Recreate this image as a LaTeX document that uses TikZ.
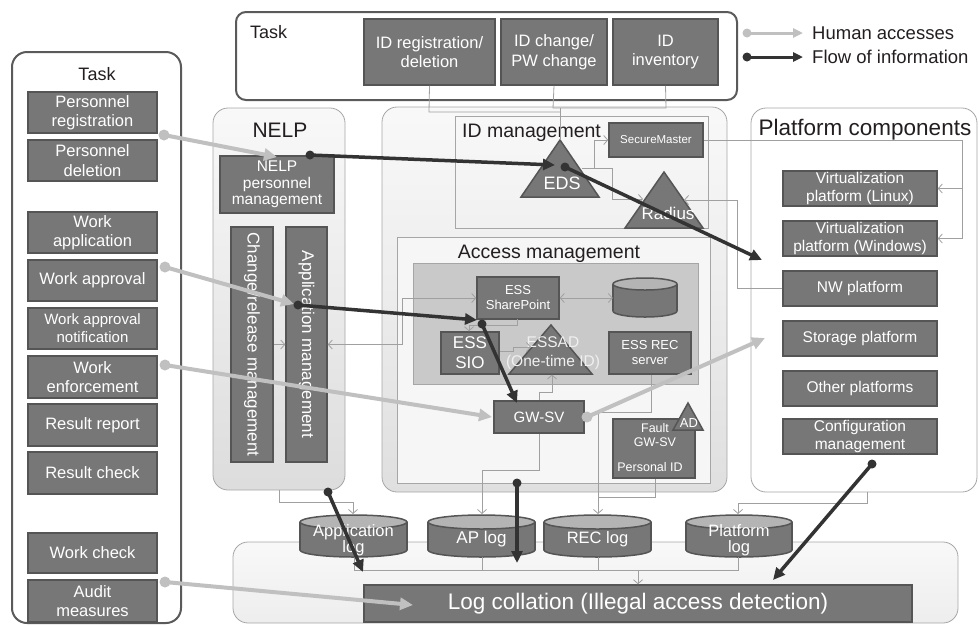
\documentclass[tikz,border=0pt]{standalone}
\usepackage{fontspec}
\setmainfont{Liberation Sans}
\usetikzlibrary{arrows.meta}
\definecolor{boxfill}{HTML}{777777}
\definecolor{boxline}{HTML}{555555}
\definecolor{taskline}{HTML}{5A5A5A}
\definecolor{contline}{HTML}{A6A6A6}
\definecolor{thinc}{HTML}{A0A0A0}
\definecolor{darkc}{HTML}{333333}
\definecolor{lightc}{HTML}{C0C0C0}
\definecolor{cyltop}{HTML}{B4B4B4}
\definecolor{graybox}{HTML}{C9C9C9}
\definecolor{txt}{HTML}{231F20}
\newcommand\fs[2]{\fontsize{#1}{#2}\selectfont}
\newcommand\drawcyl[5]{%
 \filldraw[fill=boxfill, draw=boxline, line width=1.5pt] (#1,{#4-#5}) ellipse ({#2} and {#5});
 \fill[boxfill] ({#1-#2},{#3+#5}) rectangle ({#1+#2},{#4-#5});
 \draw[boxline, line width=1.5pt] ({#1-#2},{#3+#5}) -- ({#1-#2},{#4-#5}) ({#1+#2},{#3+#5}) -- ({#1+#2},{#4-#5});
 \filldraw[fill=cyltop, draw=boxline, line width=1.5pt] (#1,{#3+#5}) ellipse ({#2} and {#5});
}
\begin{document}
\begin{tikzpicture}[x=1pt,y=-1pt,
 box/.style={draw=boxline, fill=boxfill, line width=1.5pt, text=white, inner sep=0pt, align=center, font=\fs{16.5}{19.5}},
 lbl/.style={text=txt, inner sep=0pt},
 wtxt/.style={text=white, inner sep=0pt, align=center},
 tri/.style={fill=boxfill, draw=boxline, line width=1.5pt, line join=miter},
 thinl/.style={thinc, line width=0.8pt},
 thinarrow/.style={thinl, -{Straight Barb[length=4pt,width=9pt]}},
 thinboth/.style={thinl, {Straight Barb[length=4pt,width=9pt]}-{Straight Barb[length=4pt,width=9pt]}},
 flow/.style={darkc, line width=3.5pt, -{Triangle[length=12pt,width=11pt]}},
 human/.style={lightc, line width=4pt, -{Triangle[length=13pt,width=12pt]}},
 cont/.style={contline, line width=0.8pt}]
\useasboundingbox (0,0) rectangle (979,625);

% ---------- containers ----------
\draw[taskline, line width=2pt, fill=white, rounded corners=10pt] (236,12) rectangle (737,100);
\node[lbl, font=\fs{18}{20}, anchor=west] (toptask) at (250,32) {Task};
\draw[taskline, line width=2pt, fill=white, rounded corners=15pt] (12,52) rectangle (181,623);
\node[lbl, font=\fs{18}{20}] (lefttask) at (97,74) {Task};

\draw[cont, top color=gray!5, bottom color=gray!27, rounded corners=15pt] (213,108) rectangle (345,490);
\node[lbl, font=\fs{21}{23}] (nelplbl) at (280,130) {NELP};
\draw[cont, top color=gray!5, bottom color=gray!25, rounded corners=15pt] (382,107) rectangle (727,492);
\draw[cont, fill=white, rounded corners=15pt] (751,108) rectangle (977,492);
\node[lbl, font=\fs{22.5}{24}] (platlbl) at (865,130) {Platform components};
\draw[cont, top color=gray!5, bottom color=gray!14, rounded corners=15pt] (233,542) rectangle (958,623);

\draw[cont] (455,116) rectangle (708,228);
\node[lbl, font=\fs{19.5}{21}, anchor=west] (idmlbl) at (462,133) {ID management};
\draw[cont, fill=gray!7] (397,237) rectangle (710,483);
\node[lbl, font=\fs{19.5}{21}] (amlbl) at (549,254) {Access management};
\draw[cont, fill=graybox] (413,263) rectangle (698,384);

% ---------- legend ----------
\coordinate (lg1a) at (747,33); \coordinate (lg1b) at (803,33);
\coordinate (lg2a) at (747,57); \coordinate (lg2b) at (803,57);
\draw[lightc, line width=3pt, -{Triangle[length=10pt,width=9pt]}] (lg1a) -- (lg1b);
\fill[lightc] (lg1a) circle (4.5);
\draw[darkc, line width=3pt, -{Triangle[length=10pt,width=9pt]}] (lg2a) -- (lg2b);
\fill[darkc] (lg2a) circle (4.5);
\node[lbl, font=\fs{18.5}{20}, anchor=west] (lgt1) at (812,33) {Human accesses};
\node[lbl, font=\fs{18.5}{20}, anchor=west] (lgt2) at (812,57) {Flow of information};

% ---------- left task boxes ----------
\node[box, minimum width=129pt, minimum height=41pt] (preg) at (92.5,112.5) {Personnel\\registration};
\node[box, minimum width=129pt, minimum height=41pt] (pdel) at (92.5,160.5) {Personnel\\deletion};
\node[box, minimum width=129pt, minimum height=41pt] (wapp) at (92.5,232.5) {Work\\application};
\node[box, minimum width=129pt, minimum height=41pt] (wappr) at (92.5,280.5) {Work approval};
\node[box, minimum width=129pt, minimum height=41pt, font=\fs{15}{18}] (wnot) at (92.5,328.5) {Work approval\\notification};
\node[box, minimum width=129pt, minimum height=42pt] (wenf) at (92.5,377) {Work\\enforcement};
\node[box, minimum width=129pt, minimum height=42pt] (rrep) at (92.5,425) {Result report};
\node[box, minimum width=129pt, minimum height=42pt] (rchk) at (92.5,473) {Result check};
\node[box, minimum width=129pt, minimum height=40pt] (wchk) at (92.5,553) {Work check};
\node[box, minimum width=129pt, minimum height=42pt] (audit) at (92.5,601) {Audit\\measures};

% ---------- top task boxes ----------
\node[box, minimum width=131pt, minimum height=66pt] (idreg) at (429.5,52) {ID registration/\\deletion};
\node[box, minimum width=106pt, minimum height=66pt] (idchg) at (554,52) {ID change/\\PW change};
\node[box, minimum width=105pt, minimum height=66pt] (idinv) at (665.5,52) {ID\\inventory};

% ---------- NELP ----------
\node[box, minimum width=114pt, minimum height=57pt, font=\fs{15.5}{16.5}] (nelppm) at (277,184.5) {NELP\\personnel\\management};
\node[box, rotate=-90, minimum width=235pt, minimum height=42pt, font=\fs{17}{19}] (chrel) at (252,344.5) {Change/release management};
\node[box, rotate=-90, minimum width=235pt, minimum height=41pt, font=\fs{17}{19}] (appm) at (306.5,344.5) {Application management};

% ---------- ID management ----------
\node[box, minimum width=94pt, minimum height=34pt, font=\fs{11.5}{13}] (sm) at (656,140) {SecureMaster};
\filldraw[tri] (560,140) -- (521,197) -- (599,197) -- cycle;
\node[wtxt, font=\fs{18}{20}] (eds) at (562,183) {EDS};
\filldraw[tri] (664,172) -- (625,228) -- (703,228) -- cycle;
\node[wtxt, font=\fs{17}{19}] (radius) at (668,213) {Radius};

% ---------- Access management ----------
\node[box, minimum width=82pt, minimum height=42pt, font=\fs{13}{15}] (esssp) at (518,298) {ESS\\SharePoint};
\drawcyl{645}{32}{278}{317}{6}
\node[inner sep=0pt, minimum width=64pt, minimum height=39pt] (essdb) at (645,297.5) {};
\node[box, minimum width=58pt, minimum height=42pt, font=\fs{17}{20}] (esssio) at (470,353) {ESS\\SIO};
\filldraw[tri] (551,325) -- (509,374) -- (592,374) -- cycle;
\node[wtxt, text=white!88!gray, font=\fs{15.5}{19}] (essad) at (553,353) {ESSAD\\(One-time ID)};
\node[box, minimum width=82pt, minimum height=42pt, font=\fs{13}{15}] (essrec) at (650,353) {ESS REC\\server};
\node[box, minimum width=90pt, minimum height=32pt, font=\fs{15}{17}] (gwsv) at (539,417) {GW-SV};
\node[box, minimum width=82pt, minimum height=59pt] (fault) at (654,448.5) {};
\node[wtxt, font=\fs{12.5}{14}] (faulttxt) at (655,435) {Fault\\GW-SV};
\node[wtxt, font=\fs{12.5}{14}] (pid) at (650,467) {Personal ID};
\filldraw[tri] (688,403) -- (673,430) -- (703,430) -- cycle;
\node[wtxt, font=\fs{13}{14}] (ad) at (689,423) {AD};

% ---------- Platform components ----------
\node[box, minimum width=154pt, minimum height=35pt, font=\fs{15.5}{18.5}] (vlin) at (860,188.5) {Virtualization\\platform (Linux)};
\node[box, minimum width=154pt, minimum height=35pt, font=\fs{15.5}{18.5}] (vwin) at (860,238.5) {Virtualization\\platform (Windows)};
\node[box, minimum width=154pt, minimum height=35pt, font=\fs{15.5}{18.5}] (nw) at (860,288.5) {NW platform};
\node[box, minimum width=154pt, minimum height=35pt, font=\fs{15.5}{18.5}] (stor) at (860,338.5) {Storage platform};
\node[box, minimum width=154pt, minimum height=35pt, font=\fs{15.5}{18.5}] (other) at (860,388.5) {Other platforms};
\node[box, minimum width=154pt, minimum height=35pt, font=\fs{15.5}{18.5}] (conf) at (860,436.5) {Configuration\\management};

% ---------- Logs ----------
\drawcyl{353.5}{53.5}{515}{557}{7}
\node[wtxt, font=\fs{16.5}{16}] (applog) at (353.5,540) {Application\\log};
\drawcyl{481.5}{53.5}{515}{557}{7}
\node[wtxt, font=\fs{17}{18}] (aplog) at (481.5,539) {AP log};
\drawcyl{597.5}{53.5}{515}{557}{7}
\node[wtxt, font=\fs{16.5}{18}] (reclog) at (597.5,539) {REC log};
\drawcyl{739}{53}{515}{557}{7}
\node[wtxt, font=\fs{16.5}{16}] (platlog) at (739,540) {Platform\\log};
\node[box, minimum width=548pt, minimum height=37pt, font=\fs{22.5}{24}] (logc) at (638,603.5) {Log collation (Illegal access detection)};

% ---------- thin connectors ----------
\draw[thinl] (idreg.south) -- (429,112) -- (560,112);
\draw[thinl] (idchg.south) -- (553,108) -- (666,108) -- (idinv.south);
\draw[thinl] (560,108) -- (560,140);
\draw[thinarrow] (582,168) -- (594,168) -- (594,140) -- (sm.west);
\draw[thinarrow] (594,168) -- (612,168) -- (612,199) -- (643,199);
\draw[thinarrow] (sm.east) -- (962,140) -- (962,238.5) -- (vwin.east);
\draw[thinarrow] (962,188.5) -- (vlin.east);
\draw[thinarrow] (nw.west) -- (737,288.5) -- (737,200) -- (684,200);
\draw[thinarrow] (chrel.north) -- (appm.south);
\draw[thinboth] (appm.north) -- (402,344.5) -- (402,298) -- (esssp.west);
\draw[thinboth] (esssp.east) -- (essdb.west |- 0,298);
\draw[thinarrow] (517,319) -- (517,325) -- (469,325) -- (esssio.north -| 469,0);
\draw[thinarrow] (esssio.east |- 0,351) -- (513,351) -- (513,347) -- (531,347);
\draw[thinarrow] (gwsv.north) -- (539,392) -- (552,392) -- (552,374.5);
\draw[thinarrow] (essrec.south -| 651,0) -- (651,412) -- (598,412) -- (598,514);
\draw[thinl] (fault.south -| 655,0) -- (655,497) -- (598,497);
\draw[thinarrow] (gwsv.south) -- (539,470) -- (482,470) -- (482,514);
\draw[thinarrow] (279,490) -- (279,502) -- (353,502) -- (353,514);
\draw[thinarrow] (867,492) -- (867,503) -- (738,503) -- (738,514);
\draw[thinl] (354,557) -- (354,570) -- (738,570) -- (738,557);
\draw[thinl] (482,557) -- (482,570);
\draw[thinl] (598,557) -- (598,570);
\draw[thinarrow] (638,570) -- (logc.north -| 638,0);

% ---------- human accesses ----------
\coordinate (ha1) at (164,135); \coordinate (hb1) at (277,157);
\coordinate (ha2) at (165,267); \coordinate (hb2) at (294,304);
\coordinate (ha3) at (165,365); \coordinate (hb3) at (492,417);
\coordinate (ha4) at (587,417); \coordinate (hb4) at (765,338);
\coordinate (ha5) at (165,582); \coordinate (hb5) at (413,605);
\foreach \i in {1,...,5}{
 \draw[human] (ha\i) -- (hb\i);
 \fill[lightc] (ha\i) circle (5.5);
}

% ---------- flow of information ----------
\coordinate (fa1) at (310,155); \coordinate (fb1) at (555,165);
\coordinate (fa2) at (565,167); \coordinate (fb2) at (762,260);
\coordinate (fa3) at (298,305); \coordinate (fb3) at (477,320);
\coordinate (fa4) at (482,324); \coordinate (fb4) at (517,403);
\coordinate (fa5) at (328,492); \coordinate (fb5) at (363,572);
\coordinate (fa6) at (517,483); \coordinate (fb6) at (517,563);
\coordinate (fa7) at (872,464); \coordinate (fb7) at (773,580);
\foreach \i in {1,...,7}{
 \draw[flow] (fa\i) -- (fb\i);
 \fill[darkc] (fa\i) circle (4.5);
}
\end{tikzpicture}
\end{document}
